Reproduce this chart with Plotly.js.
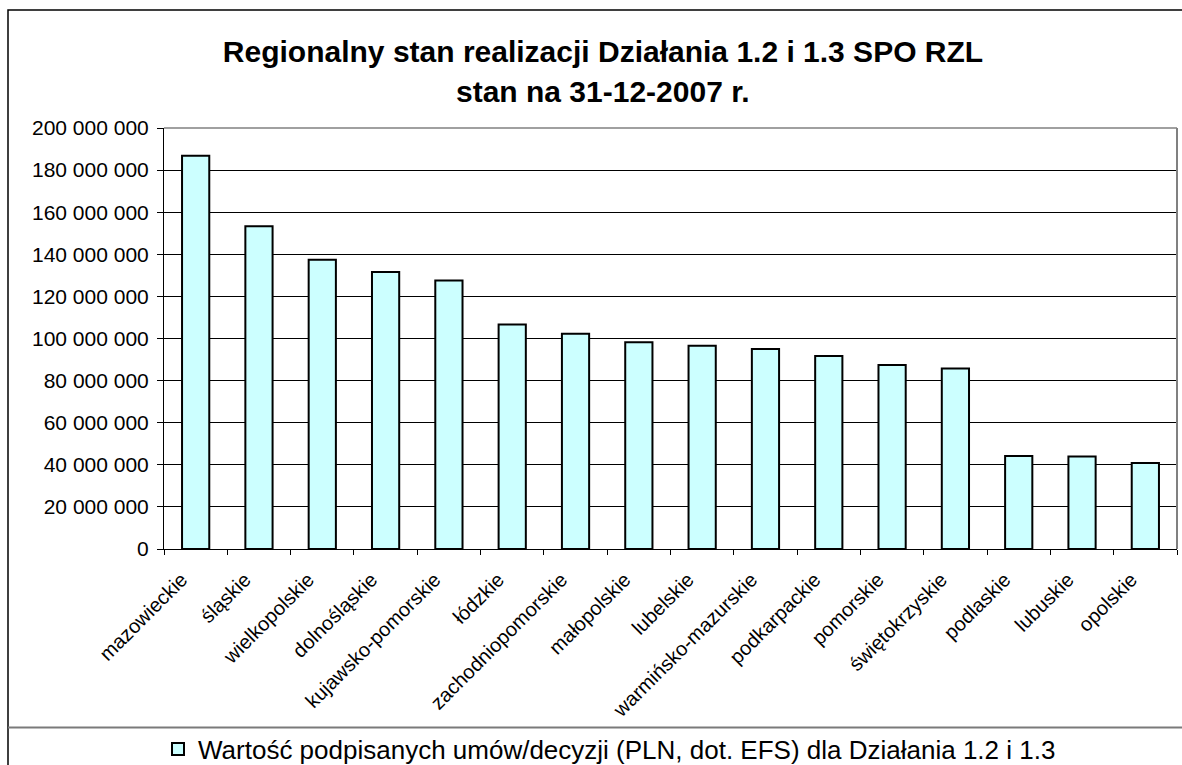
<!DOCTYPE html>
<html>
<head>
<meta charset="utf-8">
<script src="https://cdn.plot.ly/plotly-3.0.1.min.js"></script>
<style>html,body{margin:0;padding:0;background:#fff;}#chart{width:1182px;height:765px;}</style>
</head>
<body>
<div id="chart"></div>
<script>
const regions = ["mazowieckie","śląskie","wielkopolskie","dolnośląskie","kujawsko-pomorskie","łódzkie","zachodniopomorskie","małopolskie","lubelskie","warmińsko-mazurskie","podkarpackie","pomorskie","świętokrzyskie","podlaskie","lubuskie","opolskie"];
const values = [186800000,153300000,137400000,131600000,127500000,106600000,102300000,98200000,96600000,95000000,91700000,87400000,85700000,44200000,43900000,40900000];
const seriesName = "Wartość podpisanych umów/decyzji (PLN, dot. EFS) dla Działania 1.2 i 1.3";
const titleLine1 = "Regionalny stan realizacji Działania 1.2 i 1.3 SPO RZL";
const titleLine2 = "stan na 31-12-2007 r.";

const W = 1182, H = 765;
const L = 164, R = 1177, T = 128, B = 549;
const px = x => (x - L) / (R - L);
const py = y => (B - y) / (B - T);
const font = "Liberation Sans, Arial, sans-serif";
const titleCenter = 603;

const trace = {
  type: "bar",
  x: regions,
  y: values,
  name: seriesName,
  showlegend: true,
  marker: {color: "#CCFFFF", line: {color: "#000000", width: 2}},
  hoverinfo: "x+y"
};

const layout = {
  width: W, height: H,
  margin: {l: L, r: W - R, t: T, b: H - B, pad: 0, autoexpand: false},
  paper_bgcolor: "#ffffff",
  plot_bgcolor: "#ffffff",
  separators: ", ",
  font: {family: font, color: "#000000", size: 16},
  title: {
    text: "<b>" + titleLine1 + "</b>",
    font: {family: font, size: 30, color: "#000000"},
    x: titleCenter / W, xanchor: "center", xref: "container",
    y: 1 - 51 / H, yanchor: "middle", yref: "container"
  },
  annotations: [{
    text: "<b>" + titleLine2 + "</b>",
    xref: "paper", yref: "paper",
    x: px(titleCenter), xanchor: "center",
    y: py(92), yanchor: "middle",
    showarrow: false,
    font: {family: font, size: 30, color: "#000000"}
  }],
  bargap: 0.57,
  xaxis: {
    type: "category",
    tickangle: -45,
    tickfont: {family: font, size: 20, color: "#000000"},
    showline: true, linecolor: "#000000", linewidth: 1,
    ticks: "outside", tickson: "boundaries", ticklen: 5, tickcolor: "#000000",
    ticklabelstandoff: 10,
    ticklabelshift: -14,
    automargin: false,
    showgrid: false, zeroline: false,
    fixedrange: true
  },
  yaxis: {
    range: [0, 200000000],
    tick0: 0, dtick: 20000000,
    tickformat: ",d",
    tickfont: {family: font, size: 21, color: "#000000"},
    showline: true, linecolor: "#000000", linewidth: 1,
    ticks: "outside", ticklen: 6, tickcolor: "#000000",
    showgrid: true, gridcolor: "#000000", gridwidth: 1,
    zeroline: false,
    ticklabelstandoff: 4,
    automargin: false,
    fixedrange: true
  },
  legend: {
    orientation: "h",
    x: px(158), xanchor: "left",
    y: py(749), yanchor: "middle",
    font: {family: font, size: 26, color: "#000000"},
    bgcolor: "rgba(0,0,0,0)",
    borderwidth: 0
  },
  shapes: [
    {type: "rect", xref: "paper", yref: "paper", x0: px(8), x1: px(1200), y0: py(800), y1: py(10), line: {color: "#000000", width: 1.5}, layer: "below"},
    {type: "line", xref: "paper", yref: "paper", x0: px(8), x1: px(1200), y0: py(727.5), y1: py(727.5), line: {color: "#7a7a7a", width: 2}},
    {type: "line", xref: "paper", yref: "paper", x0: 0, x1: 1, y0: 1, y1: 1, line: {color: "#808080", width: 1.5}},
    {type: "line", xref: "paper", yref: "paper", x0: 1, x1: 1, y0: 0, y1: 1, line: {color: "#808080", width: 2}}
  ]
};

Plotly.newPlot("chart", [trace], layout, {displayModeBar: false, staticPlot: false});
</script>
</body>
</html>
